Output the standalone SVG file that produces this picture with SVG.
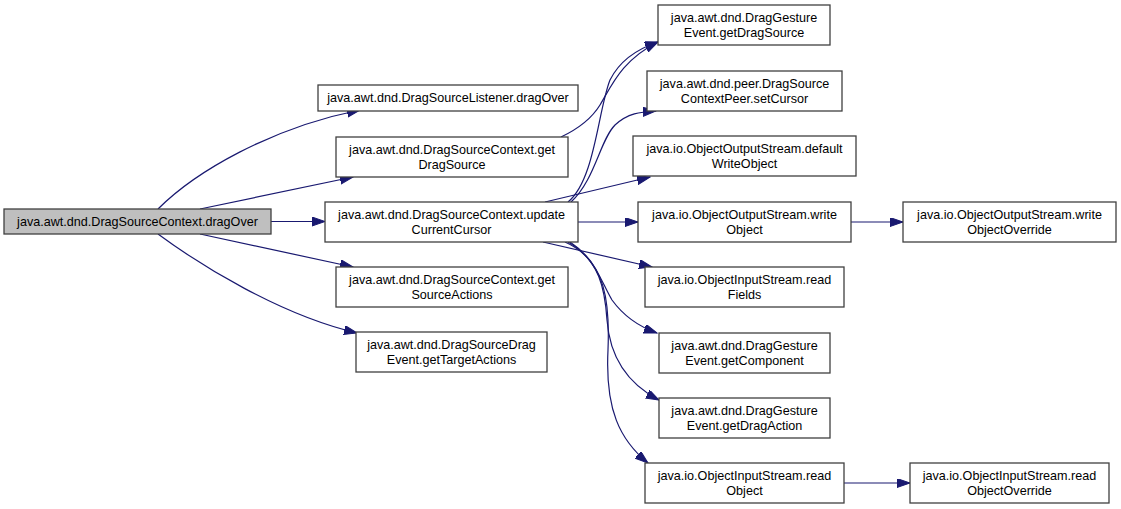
<svg xmlns="http://www.w3.org/2000/svg" width="1121" height="509" viewBox="0 0 1121 509">
<style>
.n rect{fill:#ffffff;stroke:#404040;stroke-width:1.3}
.n.root rect{fill:#bfbfbf}
.n text{font-family:"Liberation Sans",Arial,sans-serif;font-size:12.6px;fill:#000;text-anchor:middle}
#edges path{fill:none;stroke:#191970;stroke-width:1.2;marker-end:url(#ah)}
</style>
<defs>
<marker id="ah" markerUnits="userSpaceOnUse" markerWidth="14" markerHeight="10" refX="13" refY="4.5" orient="auto">
<path d="M0,0 L13,4.5 L0,9 z" fill="#191970" stroke="#191970" stroke-width="1"/>
</marker>
</defs>
<rect width="1121" height="509" fill="#ffffff"/>
<g id="edges">
<path d="M158,209 C195,172 270,128 360,110"/>
<path d="M200,209 L353,177"/>
<path d="M271,221.5 L325,221.5"/>
<path d="M200,234 L353,267"/>
<path d="M158,234 C200,265 280,315 357,333"/>
<path d="M561,137 C580,128 592,118 600,105 C612,85 622,60 658,42"/>
<path d="M568,202 C595,180 598,110 610,80 C620,60 640,48 658,42"/>
<path d="M571,202 C595,180 600,140 615,125 C628,113 640,112 656,111"/>
<path d="M545,202 L650,177"/>
<path d="M578,222 L638,222"/>
<path d="M543,242 L652,267"/>
<path d="M565,242 C595,255 600,280 612,300 C625,318 640,327 657,333"/>
<path d="M568,242 C600,260 605,290 607,320 C610,360 630,385 659,400"/>
<path d="M570,242 C605,265 610,300 608,350 C605,410 620,440 648,463"/>
<path d="M851,222 L903,222"/>
<path d="M844,483 L910,483"/>
</g>
<g id="n_dragOver" class="n root"><rect x="4" y="209" width="267" height="25"/><text x="137.5" y="226">java.awt.dnd.DragSourceContext.dragOver</text></g>
<g id="n_listener" class="n"><rect x="318" y="85" width="260" height="26"/><text x="448" y="102">java.awt.dnd.DragSourceListener.dragOver</text></g>
<g id="n_getDragSource" class="n"><rect x="336" y="137" width="232" height="40"/><text x="452" y="153.5">java.awt.dnd.DragSourceContext.get</text><text x="452" y="168.5">DragSource</text></g>
<g id="n_update" class="n"><rect x="325" y="202" width="253" height="40"/><text x="451.5" y="218.5">java.awt.dnd.DragSourceContext.update</text><text x="451.5" y="233.5">CurrentCursor</text></g>
<g id="n_getSourceActions" class="n"><rect x="336" y="267" width="232" height="40"/><text x="452" y="283.5">java.awt.dnd.DragSourceContext.get</text><text x="452" y="298.5">SourceActions</text></g>
<g id="n_getTargetActions" class="n"><rect x="356" y="332" width="191" height="40"/><text x="451.5" y="348.5">java.awt.dnd.DragSourceDrag</text><text x="451.5" y="363.5">Event.getTargetActions</text></g>
<g id="n_dge_getDragSource" class="n"><rect x="658" y="5" width="172" height="40"/><text x="744" y="21.5">java.awt.dnd.DragGesture</text><text x="744" y="36.5">Event.getDragSource</text></g>
<g id="n_setCursor" class="n"><rect x="647" y="71" width="195" height="40"/><text x="744.5" y="87.5">java.awt.dnd.peer.DragSource</text><text x="744.5" y="102.5">ContextPeer.setCursor</text></g>
<g id="n_defaultWriteObject" class="n"><rect x="633" y="136" width="223" height="40"/><text x="744.5" y="152.5">java.io.ObjectOutputStream.default</text><text x="744.5" y="167.5">WriteObject</text></g>
<g id="n_writeObject" class="n"><rect x="638" y="202" width="213" height="40"/><text x="744.5" y="218.5">java.io.ObjectOutputStream.write</text><text x="744.5" y="233.5">Object</text></g>
<g id="n_readFields" class="n"><rect x="645" y="267" width="199" height="40"/><text x="744.5" y="283.5">java.io.ObjectInputStream.read</text><text x="744.5" y="298.5">Fields</text></g>
<g id="n_getComponent" class="n"><rect x="659" y="333" width="171" height="40"/><text x="744.5" y="349.5">java.awt.dnd.DragGesture</text><text x="744.5" y="364.5">Event.getComponent</text></g>
<g id="n_getDragAction" class="n"><rect x="659" y="398" width="171" height="40"/><text x="744.5" y="414.5">java.awt.dnd.DragGesture</text><text x="744.5" y="429.5">Event.getDragAction</text></g>
<g id="n_readObject" class="n"><rect x="645" y="463" width="199" height="40"/><text x="744.5" y="479.5">java.io.ObjectInputStream.read</text><text x="744.5" y="494.5">Object</text></g>
<g id="n_writeObjectOverride" class="n"><rect x="903" y="202" width="213" height="40"/><text x="1009.5" y="218.5">java.io.ObjectOutputStream.write</text><text x="1009.5" y="233.5">ObjectOverride</text></g>
<g id="n_readObjectOverride" class="n"><rect x="910" y="463" width="199" height="40"/><text x="1009.5" y="479.5">java.io.ObjectInputStream.read</text><text x="1009.5" y="494.5">ObjectOverride</text></g>
</svg>
